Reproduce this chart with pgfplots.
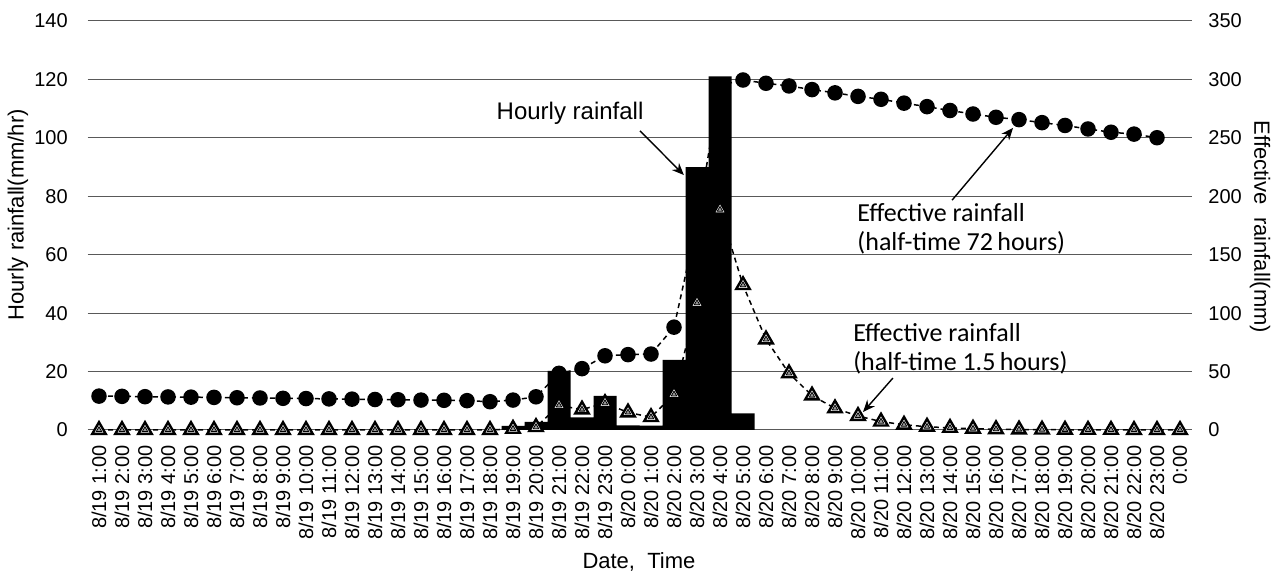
\documentclass[border=0pt]{standalone}
\usepackage{pgfplots}
\pgfplotsset{compat=1.18}
\usepackage{pgfplotstable}
\usepackage{fontspec}
\setmainfont{Liberation Sans}
\newfontfamily\calibri{Carlito}
\usetikzlibrary{arrows.meta}

\pgfplotstableread{
x c t
0 29.0 0
1 28.8 0
2 28.5 0
3 28.3 0
4 28.1 0
5 27.9 0
6 27.6 0
7 27.4 0
8 27.1 0
9 26.9 0
10 26.6 0
11 26.4 0
12 26.1 0
13 25.9 0
14 25.6 0
15 25.4 0
16 25.1 0
17 24.2 0
18 25.6 1
19 28.4 2.5
20 48.5 21
21 52.5 17.5
22 63.5 23
23 64.5 15
24 65.0 11
25 88.0 30.5
26 177.0 108.5
27 295.0 188.5
28 299.5 124
29 296.7 77.5
30 294.4 48.5
31 291.3 29.5
32 288.5 18.5
33 285.5 12
34 283.0 7.2
35 279.7 4.5
36 276.7 2.8
37 273.4 1.8
38 270.4 1.1
39 267.6 0.7
40 265.6 0.4
41 263.0 0.3
42 260.6 0.2
43 257.6 0.1
44 254.8 0.1
45 253.2 0
46 250.1 0
47 nan 0
}\effdata

\pgfplotstableread{
x h
18 1.4
19 2.8
20 20.2
21 4.3
22 11.7
23 1.6
24 1.5
25 24
26 90
27 121
28 5.7
}\hourly

\pgfplotsset{
  base/.style={
    scale only axis, width=552pt, height=204.5pt,
    xmin=-0.5, xmax=47.5, clip=false,
    /pgf/number format/assume math mode=true,
    tick style={draw=none},
    axis line style={draw=none},
    tick label style={font=\fontsize{10}{12}\selectfont},
    label style={font=\fontsize{11}{13}\selectfont},
  }
}

\begin{document}
\begin{tikzpicture}
% Axis A: grid, right axis, x labels, lines and circles
\begin{axis}[base, name=A,
  ymin=0, ymax=350, ytick={0,50,...,350},
  yticklabel pos=right, yticklabel shift=4.9pt,
  ymajorgrids, grid style={black!65, line width=0.5pt},
  xtick={0,...,47},
  xticklabels={8/19 1:00,8/19 2:00,8/19 3:00,8/19 4:00,8/19 5:00,8/19 6:00,8/19 7:00,8/19 8:00,8/19 9:00,8/19 10:00,8/19 11:00,8/19 12:00,8/19 13:00,8/19 14:00,8/19 15:00,8/19 16:00,8/19 17:00,8/19 18:00,8/19 19:00,8/19 20:00,8/19 21:00,8/19 22:00,8/19 23:00,8/20 0:00,8/20 1:00,8/20 2:00,8/20 3:00,8/20 4:00,8/20 5:00,8/20 6:00,8/20 7:00,8/20 8:00,8/20 9:00,8/20 10:00,8/20 11:00,8/20 12:00,8/20 13:00,8/20 14:00,8/20 15:00,8/20 16:00,8/20 17:00,8/20 18:00,8/20 19:00,8/20 20:00,8/20 21:00,8/20 22:00,8/20 23:00,0:00},
  xticklabel style={rotate=90, anchor=east},
  xticklabel shift=4.2pt,
  xlabel={Date,\ \ Time},
  xlabel style={at={(axis description cs:0.4995,-0.3227)}, anchor=center},
  ylabel={Effective\ \ rainfall(mm)},
  ylabel style={at={(axis description cs:1.062,0.496)}, anchor=center, rotate=180},
]
\addplot[black, line width=0.75pt, dash pattern=on 2.5pt off 2pt, no marks] table[x=x,y=t]{\effdata};
\addplot[black, line width=0.75pt, dash pattern=on 2.5pt off 2pt, mark=*, mark size=3.5pt, mark options={solid, fill=black}] table[x=x,y=c]{\effdata};
\end{axis}
% Axis B: bars, left axis
\begin{axis}[base,
  ymin=0, ymax=140, ytick={0,20,...,140},
  yticklabel pos=left, yticklabel shift=6.4pt,
  xtick=\empty,
  ylabel={Hourly rainfall(mm/hr)},
  ylabel style={at={(axis description cs:-0.063,0.526)}, anchor=center},
]
\addplot[ybar, bar width=1, fill=black, draw=none] table[x=x,y=h]{\hourly};
\end{axis}
% Axis C: triangle markers and annotations
\begin{axis}[base, hide axis, ymin=0, ymax=350]
\addplot[only marks, mark=triangle*, mark size=3.9pt, mark options={fill=white, draw=black, line width=1.2pt}] table[x=x,y=t]{\effdata};
\addplot[only marks, mark=triangle*, mark size=1.6pt, mark options={fill=black!40, draw=none}] table[x=x,y=t]{\effdata};
\node[font=\fontsize{12}{14}\selectfont] at (axis cs:20.48,271.3) {Hourly rainfall};
\draw[line width=0.7pt, -{Stealth[length=6pt,width=5pt]}] (axis cs:23.52,256) -- (axis cs:25.43,218.2);
\node[font=\calibri\fontsize{13}{15}\selectfont, anchor=base west, inner sep=0pt] at (axis cs:32.96,178) {Effective rainfall};
\node[font=\calibri\fontsize{13}{15}\selectfont, anchor=base west, inner sep=0pt] at (axis cs:32.96,153.5) {(half-time 72\,hours)};
\draw[line width=0.7pt, -{Stealth[length=6pt,width=5pt]}] (axis cs:37.09,196.7) -- (axis cs:39.74,258.5);
\node[font=\calibri\fontsize{13}{15}\selectfont, anchor=base west, inner sep=0pt] at (axis cs:32.78,75.5) {Effective rainfall};
\node[font=\calibri\fontsize{13}{15}\selectfont, anchor=base west, inner sep=0pt] at (axis cs:32.78,51.2) {(half-time 1.5\,hours)};
\draw[line width=0.7pt, -{Stealth[length=6pt,width=5pt]}] (axis cs:34.52,44.5) -- (axis cs:33.22,15.4);
\end{axis}
\pgfresetboundingbox
\path[use as bounding box] ([xshift=-43.75pt,yshift=-72.5pt]A.south west) rectangle ([xshift=45.75pt,yshift=10.5pt]A.north east);
\end{tikzpicture}
\end{document}
